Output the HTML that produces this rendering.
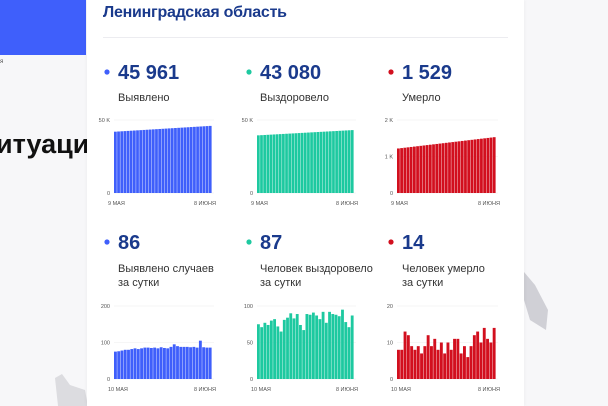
<!DOCTYPE html>
<html><head><meta charset="utf-8"><style>
body{margin:0;width:608px;height:406px;overflow:hidden;background:#f7f7f9;font-family:"Liberation Sans","Noto Sans CJK JP",sans-serif;position:relative}
.card{position:absolute;left:87px;top:0;width:437px;height:406px;background:#fff;box-shadow:0 0 4px rgba(0,0,0,.06)}
.t{position:absolute;white-space:nowrap}
</style></head><body>
<div style="position:absolute;left:0;top:0;width:86px;height:55px;background:#3f5ffb"></div>
<div class="t" style="left:0;top:59px;font-size:6px;color:#555">я</div>
<div class="t" style="left:-4px;top:129px;font-size:27px;font-weight:bold;color:#111">итуаци</div>
<svg style="position:absolute;left:0;top:0" width="608" height="406">
<path d="M524 272 L535 285 L548 310 L546 330 L530 320 L524 300Z" fill="#d0d0d6"/>
<path d="M55 378 L62 374 L70 385 L85 390 L88 406 L58 406Z" fill="#dcdce0"/>
</svg>
<div class="card"></div>
<svg id="s" style="position:absolute;left:0;top:0" width="608" height="406" font-family="Liberation Sans, sans-serif"></svg>
<script>
(function(){
const s=document.getElementById('s');let h='';
const navy='#1a3a8c';
h+=`<text x="103" y="17" font-size="16" font-weight="bold" fill="${navy}" textLength="184">Ленинградская область</text>`;
h+=`<line x1="103" y1="37.5" x2="508" y2="37.5" stroke="#ececf0"/>`;
const cols=[{x:103,c:'#3f5ffb'},{x:245,c:'#1dc9a0'},{x:387,c:'#d20f1e'}];
const tp=[['45 961','Выявлено'],['43 080','Выздоровело'],['1 529','Умерло']];
const bt=[['86','Выявлено случаев','за сутки'],['87','Человек выздоровело','за сутки'],['14','Человек умерло','за сутки']];
cols.forEach((c,i)=>{
 h+=`<circle cx="${c.x+4}" cy="72" r="2.6" fill="${c.c}"/><text x="${c.x+15}" y="79" font-size="20" font-weight="bold" fill="${navy}">${tp[i][0]}</text>`;
 h+=`<text x="${c.x+15}" y="101" font-size="11" fill="#333">${tp[i][1]}</text>`;
 h+=`<circle cx="${c.x+4}" cy="242" r="2.6" fill="${c.c}"/><text x="${c.x+15}" y="249" font-size="20" font-weight="bold" fill="${navy}">${bt[i][0]}</text>`;
 h+=`<text x="${c.x+15}" y="272" font-size="11" fill="#333">${bt[i][1]}</text><text x="${c.x+15}" y="286" font-size="11" fill="#333">${bt[i][2]}</text>`;
});
function chart(x0,x1,y0,yT,max,vals,color,ticks,d1){
 const n=vals.length,w=(x1-x0)/n;
 ticks.forEach(t=>{const y=y0-(y0-yT)*t[0]/max;h+=`<line x1="${x0}" y1="${y}" x2="${x1+2}" y2="${y}" stroke="#eee" stroke-width=".6"/><text x="${x0-4}" y="${y+2}" font-size="5.5" text-anchor="end" fill="#555">${t[1]}</text>`});
 vals.forEach((v,k)=>{const hh=(y0-yT)*v/max;h+=`<rect x="${x0+k*w}" y="${y0-hh}" width="${w-0.4}" height="${hh}" fill="${color}"/>`});
 h+=`<text x="${x0-6}" y="${y0+12}" font-size="5.5" fill="#555">${d1}</text><text x="${x1+4}" y="${y0+12}" font-size="5.5" text-anchor="end" fill="#555">8 ИЮНЯ</text>`;
}
const cum=(a,b,n)=>Array.from({length:n},(_,k)=>a+(b-a)*k/(n-1));
chart(114,212,193,120,50000,cum(42000,45961,31),'#3f5ffb',[[50000,'50 K'],[0,'0']],'9 МАЯ');
chart(257,354,193,120,50000,cum(39500,43080,31),'#1dc9a0',[[50000,'50 K'],[0,'0']],'9 МАЯ');
chart(397,496,193,120,2000,cum(1220,1529,31),'#d20f1e',[[2000,'2 K'],[1000,'1 K'],[0,'0']],'9 МАЯ');
chart(114,212,379,306,200,[75,76,78,80,80,82,84,82,84,86,86,85,86,84,87,85,84,88,95,90,88,88,88,87,88,86,105,87,86,86],'#3f5ffb',[[200,'200'],[100,'100'],[0,'0']],'10 МАЯ');
chart(257,354,379,306,100,[75,71,77,74,80,82,72,65,81,84,90,83,89,74,67,89,88,91,87,82,92,77,92,89,88,86,95,78,71,87],'#1dc9a0',[[100,'100'],[50,'50'],[0,'0']],'10 МАЯ');
chart(397,496,379,306,20,[8,8,13,12,9,8,9,7,9,12,9,11,8,10,7,10,8,11,11,7,9,6,9,12,13,10,14,11,10,14],'#d20f1e',[[20,'20'],[10,'10'],[0,'0']],'10 МАЯ');
s.innerHTML=h;
})();
</script>
</body></html>
